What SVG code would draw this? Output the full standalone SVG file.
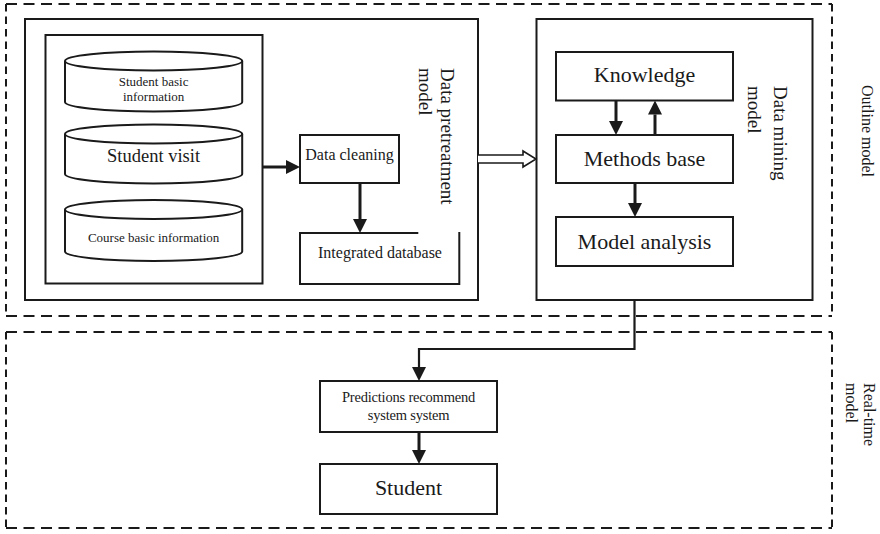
<svg xmlns="http://www.w3.org/2000/svg" width="880" height="534" viewBox="0 0 880 534">
  <style>
    .box { fill: #fff; stroke: #1a1a1a; stroke-width: 2; }
    .open { fill: none; stroke: #1a1a1a; stroke-width: 2; }
    .dh { fill: none; stroke: #1a1a1a; stroke-width: 2; stroke-dasharray: 11 6.5; }
    .dv { fill: none; stroke: #1a1a1a; stroke-width: 2; stroke-dasharray: 7.5 5; }
    .conn { fill: none; stroke: #1a1a1a; stroke-width: 3; }
    .thin { fill: none; stroke: #1a1a1a; stroke-width: 2.2; }
    text { font-family: "Liberation Serif", "Times New Roman", serif; fill: #1a1a1a; }
    .c { text-anchor: middle; }
  </style>
  <defs>
    <marker id="head" viewBox="0 0 14 14" markerWidth="14" markerHeight="14" refX="0" refY="7" orient="auto" markerUnits="userSpaceOnUse">
      <path d="M0,0 L14,7 L0,14 z" fill="#1a1a1a"/>
    </marker>
  </defs>

  <!-- Outline model frame -->
  <g id="outline-frame">
    <line class="dh" x1="6" y1="4" x2="832" y2="4"/>
    <line class="dh" x1="6" y1="316" x2="832" y2="316"/>
    <line class="dv" x1="6" y1="4" x2="6" y2="316"/>
    <line class="dv" x1="832" y1="4" x2="832" y2="316"/>
    <text transform="translate(862,85) rotate(90)" font-size="16">Outline model</text>
  </g>

  <!-- Real-time model frame -->
  <g id="realtime-frame">
    <line class="dh" x1="6" y1="332" x2="832" y2="332"/>
    <line class="dh" x1="6" y1="528" x2="832" y2="528"/>
    <line class="dv" x1="6" y1="332" x2="6" y2="528"/>
    <line class="dv" x1="832" y1="332" x2="832" y2="528"/>
    <text transform="translate(864,383) rotate(90)" font-size="16">Real-time</text>
    <text transform="translate(846,383) rotate(90)" font-size="16">model</text>
  </g>

  <!-- Data pretreatment model -->
  <g id="pretreatment">
    <rect class="box" x="25" y="19" width="453" height="281"/>
    <text transform="translate(440.5,68) rotate(90)" font-size="19">Data pretreatment</text>
    <text transform="translate(419,68) rotate(90)" font-size="19">model</text>
  </g>

  <g id="sources">
    <rect class="box" x="45.5" y="35" width="217" height="248.5"/>
  </g>

  <g id="student-basic-info">
    <path class="box" d="M65,61 L65,102 A88.6,9.5 0 0 0 242.2,102 L242.2,61"/>
    <ellipse class="box" cx="153.6" cy="61" rx="88.6" ry="9.5"/>
    <text class="c" x="153.6" y="86" font-size="13">Student basic</text>
    <text class="c" x="153.6" y="101" font-size="13">information</text>
  </g>

  <g id="student-visit">
    <path class="box" d="M65,134 L65,174 A88.6,9.5 0 0 0 242.2,174 L242.2,134"/>
    <ellipse class="box" cx="153.6" cy="134" rx="88.6" ry="9.5"/>
    <text class="c" x="153.6" y="162" font-size="18.5">Student visit</text>
  </g>

  <g id="course-basic-info">
    <path class="box" d="M65,209.5 L65,251.5 A88.6,9.5 0 0 0 242.2,251.5 L242.2,209.5"/>
    <ellipse class="box" cx="153.6" cy="209.5" rx="88.6" ry="9.5"/>
    <text class="c" x="153.6" y="242" font-size="13">Course basic information</text>
  </g>

  <g id="data-cleaning">
    <rect class="box" x="300" y="135" width="99" height="48"/>
    <text class="c" x="349.5" y="160" font-size="16">Data cleaning</text>
  </g>

  <g id="integrated-database">
    <path class="open" d="M418.3,233 L300,233 L300,284 L459.3,284 L459.3,232"/>
    <text class="c" x="380" y="258" font-size="16">Integrated database</text>
  </g>

  <!-- Data mining model -->
  <g id="mining">
    <rect class="box" x="536.5" y="19" width="276" height="281"/>
    <text transform="translate(774,86) rotate(90)" font-size="19">Data mining</text>
    <text transform="translate(748,86) rotate(90)" font-size="19">model</text>
  </g>

  <g id="knowledge">
    <rect class="box" x="556" y="52" width="177" height="48.5"/>
    <text class="c" x="644.5" y="82" font-size="22">Knowledge</text>
  </g>

  <g id="methods-base">
    <rect class="box" x="556" y="135" width="177" height="48"/>
    <text class="c" x="644.5" y="166" font-size="22">Methods base</text>
  </g>

  <g id="model-analysis">
    <rect class="box" x="556" y="217" width="177" height="49"/>
    <text class="c" x="644.5" y="248.5" font-size="22">Model analysis</text>
  </g>

  <!-- Real-time model nodes -->
  <g id="predictions">
    <rect class="box" x="320" y="381" width="177" height="51"/>
    <text class="c" x="408.5" y="401.5" font-size="14.5" letter-spacing="-0.2">Predictions recommend</text>
    <text class="c" x="408.5" y="420" font-size="14.5" letter-spacing="-0.2">system system</text>
  </g>

  <g id="student">
    <rect class="box" x="320" y="464" width="177" height="50"/>
    <text class="c" x="408.5" y="495" font-size="22">Student</text>
  </g>

  <!-- Connectors -->
  <g id="connectors">
    <path class="conn" d="M262.5,167 L286,167" marker-end="url(#head)"/>
    <path class="conn" d="M360,183 L360,219" marker-end="url(#head)"/>
    <path class="conn" d="M616,100.5 L616,121" marker-end="url(#head)"/>
    <path class="conn" d="M655,135 L655,114.5" marker-end="url(#head)"/>
    <path class="conn" d="M635,183 L635,203" marker-end="url(#head)"/>
    <path class="thin" d="M634.5,300 L634.5,349 L419,349 L419,367" marker-end="url(#head)"/>
    <path class="conn" d="M419,432 L419,450" marker-end="url(#head)"/>
    <!-- hollow block arrow between the two models -->
    <path fill="#fff" stroke="#1a1a1a" stroke-width="1.6" d="M478,155 L523,155 L523,151 L536,159 L523,167 L523,163 L478,163"/>
  </g>
</svg>
